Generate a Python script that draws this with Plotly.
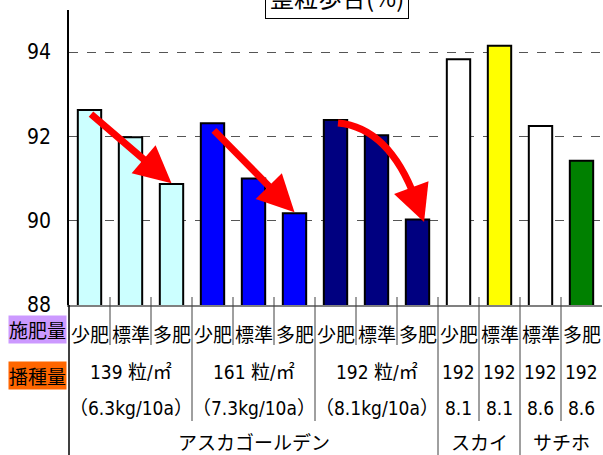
import plotly.graph_objects as go

# ---- data ----
fertilizer = ["少肥", "標準", "多肥", "少肥", "標準", "多肥", "少肥", "標準", "多肥",
              "少肥", "標準", "標準", "多肥"]
values = [92.63, 91.98, 90.87, 92.31, 91.00, 90.18, 92.39, 92.03, 90.03,
          93.83, 94.15, 92.25, 91.42]
bar_colors = ["#CCFFFF"] * 3 + ["#0000FF"] * 3 + ["#000080"] * 3 + \
             ["#FFFFFF", "#FFFF00", "#FFFFFF", "#008000"]
seed_rate = ["139 粒/㎡", "161 粒/㎡", "192 粒/㎡", "192", "192", "192", "192"]
seed_kg = ["（6.3kg/10a）", "（7.3kg/10a）", "（8.1kg/10a）", "8.1", "8.1", "8.6", "8.6"]
seed_spans = [(0, 2), (3, 5), (6, 8), (9, 9), (10, 10), (11, 11), (12, 12)]
varieties = ["アスカゴールデン", "スカイ", "サチホ"]
variety_spans = [(0, 8), (9, 10), (11, 12)]
y_ticks = [88, 90, 92, 94]
title_text = "整粒歩合(%)"

x = list(range(len(values)))
CJK = "Noto Sans CJK JP"
NUM = "Liberation Sans Narrow, DejaVu Sans Condensed, Noto Sans CJK JP"

fig = go.Figure()
fig.add_trace(go.Bar(
    x=x, y=values, width=0.57,
    marker=dict(color=bar_colors, line=dict(color="black", width=2)),
    showlegend=False, hoverinfo="skip",
))

W, H = 603, 455
ml, mr, mt, mb = 69, 1, 10, 150
ph = H - mt - mb


def py(pix):  # pixel y -> paper y
    return (H - mb - pix) / ph


annotations = []
shapes = []

# fertilizer row
for i, f in enumerate(fertilizer):
    annotations.append(dict(x=i, y=py(333), xref="x", yref="paper", text=f,
                            xanchor="center", yanchor="middle",
                            showarrow=False, font=dict(family=CJK, size=19, color="black")))
# seeding rate rows
for (a, b), r, k in zip(seed_spans, seed_rate, seed_kg):
    c = (a + b) / 2
    annotations.append(dict(x=c, y=py(372), xref="x", yref="paper", text=r,
                            xanchor="center", yanchor="middle",
                            showarrow=False, font=dict(family=NUM, size=19, color="black")))
    annotations.append(dict(x=c, y=py(408), xref="x", yref="paper", text=k,
                            xanchor="center", yanchor="middle",
                            showarrow=False, font=dict(family=NUM, size=19, color="black")))
# variety row
for (a, b), v in zip(variety_spans, varieties):
    annotations.append(dict(x=(a + b) / 2, y=py(441), xref="x", yref="paper", text=v,
                            xanchor="center", yanchor="middle",
                            showarrow=False, font=dict(family=CJK, size=19, color="black")))
# row header labels
annotations.append(dict(x=-32 / (W - ml - mr), y=py(329), xref="paper", yref="paper",
                        xanchor="center", yanchor="middle",
                        text="施肥量", showarrow=False, bgcolor="#CC99FF", borderpad=0,
                        font=dict(family=CJK, size=19, color="black")))
annotations.append(dict(x=-32 / (W - ml - mr), y=py(375), xref="paper", yref="paper",
                        xanchor="center", yanchor="middle",
                        text="播種量", showarrow=False, bgcolor="#FF6600", borderpad=0,
                        font=dict(family=CJK, size=19, color="black")))
# title box
annotations.append(dict(x=0.502, y=py(19), xref="paper", yref="paper",
                        xanchor="center", yanchor="bottom",
                        text=title_text, showarrow=False, bgcolor="white",
                        bordercolor="black", borderwidth=1, borderpad=4,
                        font=dict(family=CJK, size=24, color="black")))

# straight red arrows (from 少肥 top to 多肥 top)
RED = "#FF0000"
for s, e, dy0 in [(0, 2, -0.07), (3, 5, -0.13)]:
    annotations.append(dict(x=e, y=values[e] + 0.02, ax=s, ay=values[s] + dy0,
                            xref="x", yref="y", axref="x", ayref="y", text="",
                            showarrow=True, arrowhead=2, arrowsize=1.05, arrowwidth=7,
                            arrowcolor=RED, standoff=0))
# curved arrow for the third group
s, m, e = 6, 7, 8
p0 = (s + 0.06, values[s] - 0.07)
ctrl = (m + 0.3, values[m] + 0.18)
tail = (e - 0.05, values[e] + 0.49)
tip = (e + 0.16, values[e] - 0.06)
shapes.append(dict(type="path", xref="x", yref="y",
                   path=f"M {p0[0]},{p0[1]} Q {ctrl[0]},{ctrl[1]} {tail[0]},{tail[1]}",
                   line=dict(color=RED, width=7)))
annotations.append(dict(x=tip[0], y=tip[1], ax=tail[0], ay=tail[1],
                        xref="x", yref="y", axref="x", ayref="y", text="",
                        showarrow=True, arrowhead=2, arrowsize=1.05, arrowwidth=7,
                        arrowcolor=RED, standoff=0))

# category separator lines below axis
LC = "#404040"
short_b = [0.5, 1.5, 3.5, 4.5, 6.5, 7.5]
mid_b = [2.5, 5.5, 9.5, 11.5]
long_b = [8.5, 10.5]
for bnd in short_b:
    shapes.append(dict(type="line", xref="x", yref="paper", x0=bnd, x1=bnd,
                       y0=py(297), y1=py(345), line=dict(color=LC, width=1)))
for bnd in mid_b:
    shapes.append(dict(type="line", xref="x", yref="paper", x0=bnd, x1=bnd,
                       y0=py(297), y1=py(421), line=dict(color=LC, width=1)))
for bnd in long_b:
    shapes.append(dict(type="line", xref="x", yref="paper", x0=bnd, x1=bnd,
                       y0=py(297), y1=py(460), line=dict(color=LC, width=1)))
# y-axis extension down to the bottom
shapes.append(dict(type="line", xref="paper", yref="paper", x0=0, x1=0,
                   y0=0, y1=py(460), line=dict(color="black", width=1.5)))

fig.update_layout(
    width=W, height=H,
    margin=dict(l=ml, r=mr, t=mt, b=mb),
    paper_bgcolor="white", plot_bgcolor="white",
    annotations=annotations, shapes=shapes,
    xaxis=dict(range=[-0.5, len(values) - 0.5], showticklabels=False, showgrid=False,
               zeroline=False, showline=True, linecolor="#808080", linewidth=2,
               ticks=""),
    yaxis=dict(range=[88, 95], tickvals=y_ticks, showgrid=True, gridcolor="#555555",
               griddash="dash", gridwidth=1, zeroline=False, showline=True,
               linecolor="black", linewidth=1.5, ticks="", ticklabelstandoff=12,
               tickfont=dict(family=NUM, size=21, color="black")),
)

fig.write_html("out.html", config={"displayModeBar": False},
               post_script="document.body.style.margin='0';document.body.style.overflow='hidden';")
